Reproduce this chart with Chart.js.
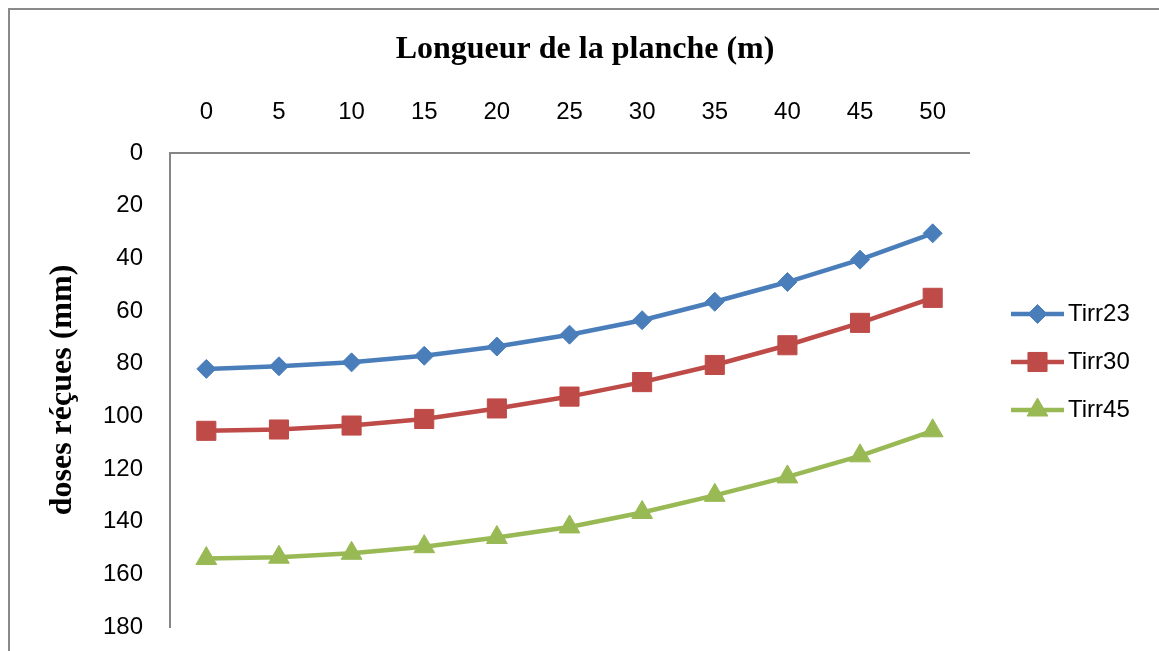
<!DOCTYPE html>
<html lang="fr">
<head>
<meta charset="utf-8">
<title>Doses reçues le long de la planche</title>
<script src="https://cdn.jsdelivr.net/npm/chart.js@4.4.0/dist/chart.umd.min.js"></script>
<style>
    html, body { margin:0; padding:0; background:#fff; overflow:hidden; }
    #wrap { position:relative; width:1159px; height:651px; overflow:hidden; }
    #cadre { position:absolute; left:8px; top:8px; width:1300px; height:800px;
             border-left:2px solid #8a8a8a; border-top:2px solid #8a8a8a; }
    #graphique { position:absolute; left:0; top:0; }
</style>
</head>
<body>
<div id="wrap">
    <div id="cadre"></div>
    <canvas id="graphique" width="1159" height="651"></canvas>
</div>
<script>
// Données
const longueurs = ['0', '5', '10', '15', '20', '25', '30', '35', '40', '45', '50'];
const tirr23 = [82, 81, 79.5, 77, 73.5, 69, 63.5, 56.5, 49, 40.5, 30.5];
const tirr30 = [105.5, 105, 103.5, 101, 97, 92.5, 87, 80.5, 73, 64.5, 55];
const tirr45 = [154, 153.5, 152, 149.5, 146, 142, 136.5, 130, 123, 115, 105.5];
const nomsSeries = ['Tirr23', 'Tirr30', 'Tirr45'];
const dosesTicks = [0, 20, 40, 60, 80, 100, 120, 140, 160, 180];

const titreX = 'Longueur de la planche (m)';
const titreY = 'doses réçues (mm)';

const policeSans = "'Liberation Sans', Arial, sans-serif";
const policeSerif = "'Liberation Serif', 'Times New Roman', serif";
const gris = '#868686';

function serie(label, data, couleur, style, rayon) {
    return {
        label: label,
        data: data,
        borderColor: couleur,
        backgroundColor: couleur,
        borderWidth: 4.5,
        tension: 0,
        pointStyle: style,
        pointRadius: rayon,
        pointHoverRadius: rayon,
        pointBorderWidth: 1,
        pointBorderColor: couleur,
        pointBackgroundColor: couleur
    };
}

// Titre du haut (centré sur le graphique Excel, pas sur la zone de tracé)
const titreHaut = {
    id: 'titreHaut',
    afterDraw(chart) {
        const ctx = chart.ctx;
        ctx.save();
        ctx.font = 'bold 32px ' + policeSerif;
        ctx.fillStyle = '#000';
        ctx.textAlign = 'center';
        ctx.textBaseline = 'alphabetic';
        ctx.fillText(titreX, 585, 58);
        ctx.restore();
    }
};

// Légende à droite : trait + marqueur comme dans Excel
const legendeDroite = {
    id: 'legendeDroite',
    afterDraw(chart) {
        const ctx = chart.ctx;
        chart.data.datasets.forEach((ds, i) => {
            const y = 314 + i * 48;
            ctx.save();
            ctx.strokeStyle = ds.borderColor;
            ctx.lineWidth = ds.borderWidth;
            ctx.beginPath();
            ctx.moveTo(1011, y);
            ctx.lineTo(1064, y);
            ctx.stroke();
            ctx.fillStyle = ds.backgroundColor;
            ctx.lineWidth = 1;
            Chart.helpers.drawPoint(ctx, {
                pointStyle: ds.pointStyle,
                radius: ds.pointRadius,
                borderWidth: 1,
                rotation: 0
            }, 1037.5, y);
            ctx.fillStyle = '#000';
            ctx.font = '24px ' + policeSans;
            ctx.textAlign = 'left';
            ctx.textBaseline = 'middle';
            ctx.fillText(ds.label, 1068, y);
            ctx.restore();
        });
    }
};

document.addEventListener('DOMContentLoaded', function() {
    const ctx = document.getElementById('graphique').getContext('2d');
    new Chart(ctx, {
        type: 'line',
        data: {
            labels: longueurs,
            datasets: [
                serie(nomsSeries[0], tirr23, '#4a7ebb', 'rectRot', 9.5),
                serie(nomsSeries[1], tirr30, '#be4b48', 'rect', 13.5),
                serie(nomsSeries[2], tirr45, '#98b954', 'triangle', 12)
            ]
        },
        options: {
            responsive: false,
            animation: false,
            layout: { padding: { left: 20, right: 190, top: 70, bottom: 24 } },
            scales: {
                x: {
                    position: 'top',
                    offset: true,
                    grid: { display: false, drawTicks: false },
                    border: { display: true, color: gris, width: 2 },
                    ticks: { color: '#000', font: { family: policeSans, size: 24 }, padding: 26, maxRotation: 0 },
                    afterFit(scale) { scale.height = 83; }
                },
                y: {
                    reverse: true,
                    min: 0,
                    max: 180,
                    afterBuildTicks(scale) { scale.ticks = dosesTicks.map(v => ({ value: v })); },
                    grid: { display: false, drawTicks: false },
                    border: { display: true, color: gris, width: 2 },
                    ticks: { color: '#000', font: { family: policeSans, size: 24 }, padding: 27 },
                    title: {
                        display: true,
                        text: titreY,
                        color: '#000',
                        font: { family: policeSerif, size: 32, weight: 'bold' },
                        padding: { top: 24, bottom: 0 }
                    },
                    afterFit(scale) {
                        // largeur fixe, et pas de marge auto sous le dernier libellé
                        scale.width = 150;
                        scale.paddingTop = 10;
                        scale.paddingBottom = 10;
                    }
                }
            },
            plugins: {
                legend: { display: false },
                title: { display: false },
                tooltip: { enabled: false }
            }
        },
        plugins: [titreHaut, legendeDroite]
    });
});
</script>
</body>
</html>
